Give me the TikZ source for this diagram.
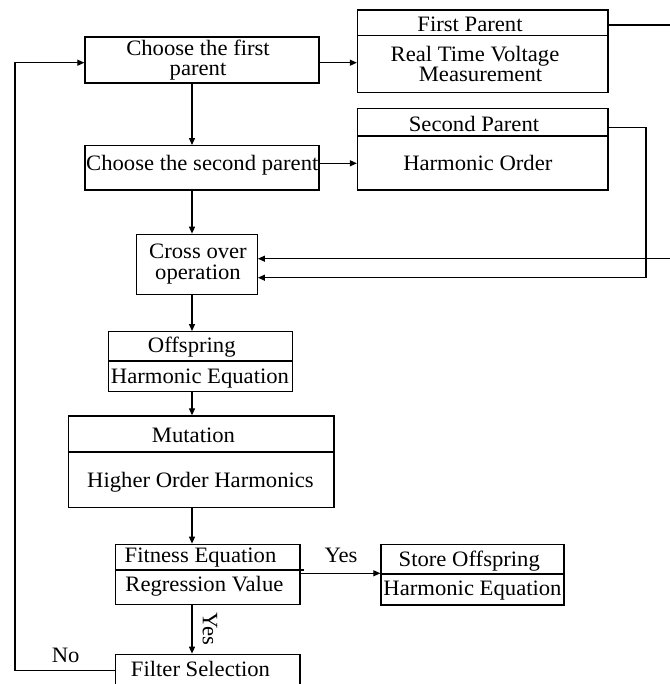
\documentclass[tikz,border=0pt]{standalone}
\usepackage{fontspec}
\setmainfont[FakeStretch=1.03]{Liberation Serif}
\usetikzlibrary{arrows.meta}
\begin{document}
\begin{tikzpicture}[x=1pt,y=-1pt,
  box/.style={draw, rectangle, inner sep=0pt, line width=1.3pt},
  txt/.style={font=\fontsize{22}{20}\selectfont, inner sep=0pt, text height=14.5pt, text depth=0pt},
  con/.style={line width=1.2pt},
  arr/.style={line width=1.2pt, -{Triangle[length=7pt,width=6pt]}}]
\useasboundingbox (0,0) rectangle (669,684);
\fill[white] (0,0) rectangle (669,684);

% helper coordinates
\coordinate (vx) at (192,0);
\coordinate (lx) at (15,0);
\coordinate (rx) at (646,0);
\coordinate (ox) at (690,0);

% boxes
\node[box, minimum width=234pt, minimum height=46pt] (c1) at (202,60) {};
\node[box, minimum width=250.5pt, minimum height=82.7pt] (fp) at (482.75,51.35) {};
\node[box, minimum width=234pt, minimum height=44.3pt] (c2) at (202,167.85) {};
\node[box, minimum width=250.5pt, minimum height=81.3pt] (sp) at (482.75,149.35) {};
\node[box, minimum width=120.8pt, minimum height=60pt] (co) at (196.9,264.3) {};
\node[box, minimum width=183.9pt, minimum height=60pt] (off) at (200.75,361.7) {};
\node[box, minimum width=265.7pt, minimum height=91.3pt] (mut) at (201.15,461.65) {};
\node[box, minimum width=184.4pt, minimum height=60pt] (fit) at (207.8,574.3) {};
\node[box, minimum width=183pt, minimum height=60.7pt] (st) at (472.5,574.65) {};
\node[box, minimum width=184.4pt, minimum height=60pt] (fil) at (207.8,684.3) {};

% dividers
\draw[con] (fp.west |- 0,35.7) -- (fp.east |- 0,35.7);
\draw[con] (sp.west |- 0,136) -- (sp.east |- 0,136);
\draw[con] (off.west |- 0,361) -- (off.east |- 0,361);
\draw[con] (mut.west |- 0,452) -- (mut.east |- 0,452);
\draw[con] (fit.west |- 0,570) -- ([xshift=3pt]fit.east |- 0,570);
\draw[con] (st.west |- 0,574) -- (st.east |- 0,574);

% texts
\node[txt] (c1a) at (198,48.5) {Choose the first};
\node[txt] (c1b) at (198,68.5) {parent};
\node[txt] (fpa) at (470,24) {First Parent};
\node[txt] (fpb) at (475,54) {Real Time Voltage};
\node[txt] (fpc) at (480.5,74) {Measurement};
\node[txt] (c2a) at (202.3,163) {Choose the second parent};
\node[txt] (spa) at (474,124) {Second Parent};
\node[txt] (spb) at (477.8,163) {Harmonic Order};
\node[txt] (coa) at (198,251) {Cross over};
\node[txt] (cob) at (198,272.7) {operation};
\node[txt] (offa) at (191.8,345.7) {Offspring};
\node[txt] (offb) at (200,376) {Harmonic Equation};
\node[txt] (muta) at (193.5,435) {Mutation};
\node[txt] (mutb) at (200.5,480) {Higher Order Harmonics};
\node[txt] (fita) at (200.5,555.7) {Fitness Equation};
\node[txt] (fitb) at (204.4,584) {Regression Value};
\node[txt] (sta) at (469.3,559) {Store Offspring};
\node[txt] (stb) at (472.5,588) {Harmonic Equation};
\node[txt] (fila) at (200.5,669.3) {Filter Selection};
\node[txt] (yes1) at (341,555) {Yes};
\node[txt, rotate=-90] (yes2) at (210,629) {Yes};
\node[txt] (no) at (65.7,655) {No};

% vertical flow
\draw[arr] (c1.south -| vx) -- (c2.north -| vx);
\draw[arr] (c2.south -| vx) -- (co.north -| vx);
\draw[arr] (co.south -| vx) -- (off.north -| vx);
\draw[arr] (off.south -| vx) -- (mut.north -| vx);
\draw[arr] (mut.south -| vx) -- (fit.north -| vx);
\draw[arr] (fit.south -| vx) -- (fil.north -| vx);

% horizontal flow
\draw[arr] (c1.east |- 0,62.7) -- (fp.west |- 0,62.7);
\draw[arr] (c2.east |- 0,163.3) -- (sp.west |- 0,163.3);
\draw[arr] (fit.east |- 0,573.3) -- (st.west |- 0,573.3);

% returns to cross over
\draw[arr] (fp.east |- 0,25) -- (ox |- 0,25) -- (ox |- 0,258.7) -- (co.east |- 0,258.7);
\draw[arr] (sp.east |- 0,127.7) -- (rx |- 0,127.7) -- (rx |- 0,277.7) -- (co.east |- 0,277.7);

% feedback loop
\draw[arr] (fil.west |- 0,670.7) -- (lx |- 0,670.7) -- (lx |- 0,62.7) -- (c1.west |- 0,62.7);
\end{tikzpicture}
\end{document}
